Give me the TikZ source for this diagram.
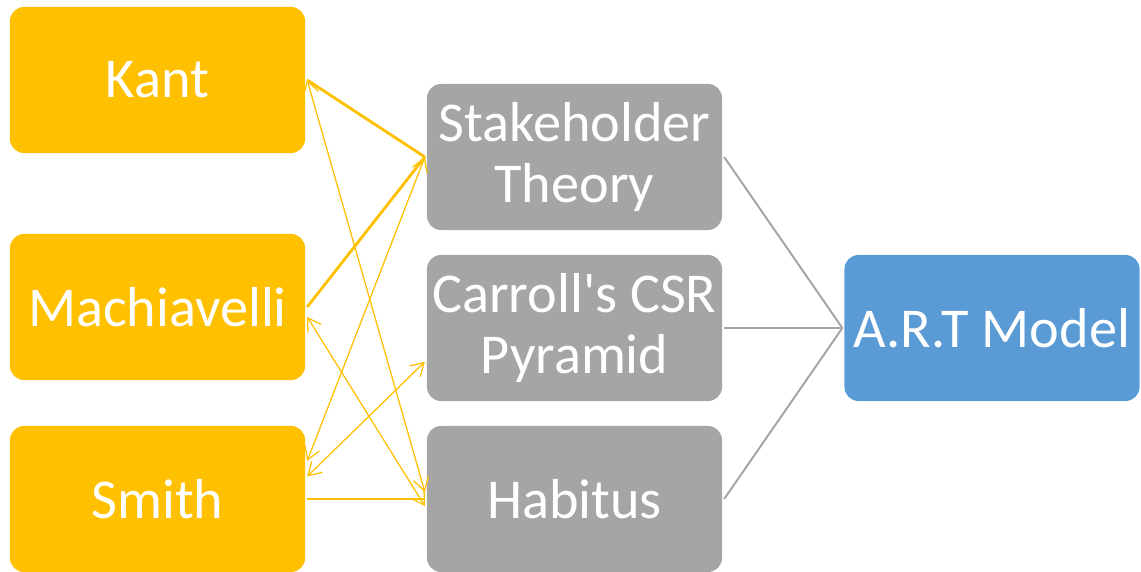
\documentclass[tikz,border=0pt]{standalone}
\usepackage{fontspec}
\setmainfont{Carlito}
\usetikzlibrary{arrows.meta}
\definecolor{gold}{HTML}{FFC000}
\definecolor{slate}{HTML}{A5A5A5}
\definecolor{sky}{HTML}{5B9BD5}
\begin{document}
\begin{tikzpicture}[x=0.025cm, y=-0.025cm,
        box/.style = {rounded corners=10pt, minimum width=7.375cm, minimum height=3.65cm, inner sep=0pt, outer sep=1.5pt,
            text=white, align=center, font=\fontsize{40}{43}\selectfont},
        thinker/.style = {box, fill=gold},
        theory/.style = {box, fill=slate},
        model/.style = {box, fill=sky},
        link/.style = {gold, line width=2pt},
        both/.style = {gold, line width=0.9pt, {Straight Barb[length=9pt,width=11pt]}-{Straight Barb[length=9pt,width=11pt]}},
        feed/.style = {slate, line width=1.4pt}
    ]
    \useasboundingbox (0,0) rectangle (1141,571);
    \node[thinker] (kant) at (157.5,80) {Kant};
    \node[thinker] (machiavelli) at (157.5,307) {Machiavelli};
    \node[thinker] (smith) at (157.5,499) {Smith};
    \node[theory] (stakeholder) at (574.5,157) {Stakeholder\\Theory};
    \node[theory] (carroll) at (574.5,328) {Carroll\textquotesingle s CSR\\Pyramid};
    \node[theory] (habitus) at (574.5,499) {Habitus};
    \node[model] (art) at (992,328) {A.R.T Model};
    % thinkers to theories
    \draw[link] (kant.east) -- (stakeholder.west);
    \draw[link] (machiavelli.east) -- (stakeholder.west);
    \draw[link] (smith.east) -- (habitus.west);
    \draw[both] (kant.east) -- ([yshift=5pt]habitus.west);
    \draw[both] ([yshift=-7pt]machiavelli.east) -- ([yshift=-5pt]habitus.west);
    \draw[both] ([yshift=27pt]smith.east) -- (stakeholder.west);
    \draw[both] ([yshift=16pt]smith.east) -- ([yshift=-24pt]carroll.west);
    % theories into the model
    \draw[feed] (stakeholder.east) -- (art.west);
    \draw[feed] (carroll.east) -- (art.west);
    \draw[feed] (habitus.east) -- (art.west);
\end{tikzpicture}
\end{document}
